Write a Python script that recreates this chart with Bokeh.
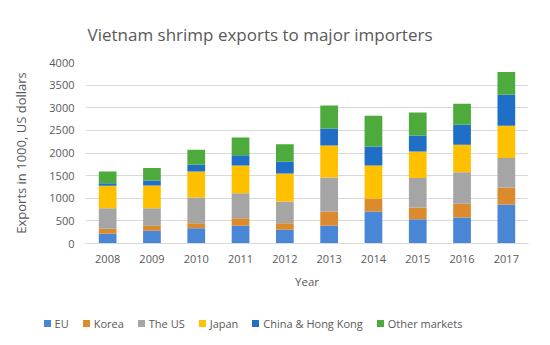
from bokeh.plotting import figure
from bokeh.models import FactorRange, ColumnDataSource, Range1d, Div
from bokeh.layouts import column
from bokeh.embed import file_html
from bokeh.resources import INLINE

years = ["2008", "2009", "2010", "2011", "2012", "2013", "2014", "2015", "2016", "2017"]
eu = [214, 280, 339, 391, 302, 391, 708, 538, 575, 860]
korea = [110, 111, 111, 169, 148, 317, 280, 258, 302, 378]
us = [457, 390, 567, 553, 479, 751, 0, 649, 700, 649]
japan = [494, 501, 575, 612, 619, 708, 737, 589, 604, 715]
china_hk = [59, 111, 147, 228, 258, 376, 420, 354, 443, 685]
other = [258, 273, 332, 391, 390, 508, 678, 508, 464, 501]
series_names = ["EU", "Korea", "The US", "Japan", "China & Hong Kong", "Other markets"]
y_ticks = [0, 500, 1000, 1500, 2000, 2500, 3000, 3500, 4000]

keys = ["eu", "korea", "us", "japan", "china_hk", "other"]
colors = ["#4A86D6", "#DC8A2E", "#A5A5A5", "#FFC000", "#1F6FC6", "#4DAA3D"]

src = ColumnDataSource(dict(year=years, eu=eu, korea=korea, us=us, japan=japan,
                            china_hk=china_hk, other=other))

FONT = "Open Sans"
GREY = "#595959"

p = figure(x_range=FactorRange(*years), y_range=Range1d(0, 4000),
           frame_width=443, frame_height=181, output_backend="svg", toolbar_location=None,
           min_border_left=81, min_border_right=18, min_border_top=55, min_border_bottom=66,
           title="Vietnam shrimp exports to major importers")

rs = p.vbar_stack(keys, x="year", width=0.4, color=colors, source=src, line_color=None)

p.title.align = "left"
p.title.offset = 2
p.title.text_font = FONT
p.title.text_font_size = "17px"
p.title.text_font_style = "normal"
p.title.text_color = GREY
p.title.standoff = 33

p.outline_line_color = None
p.xgrid.grid_line_color = None
p.ygrid.grid_line_color = "#D9D9D9"
p.yaxis.ticker = y_ticks
p.yaxis.axis_line_color = None
p.yaxis.major_tick_line_color = None
p.yaxis.minor_tick_line_color = None
p.xaxis.axis_line_color = "#D9D9D9"
p.xaxis.major_tick_line_color = None
p.xaxis.minor_tick_line_color = None
for ax in (p.xaxis[0], p.yaxis[0]):
    ax.major_label_text_font = FONT
    ax.major_label_text_font_size = "11px"
    ax.major_label_text_color = GREY
    ax.axis_label_text_font = FONT
    ax.axis_label_text_font_style = "normal"
    ax.axis_label_text_color = GREY
p.xaxis.axis_label = "Year"
p.xaxis.axis_label_text_font_size = "11.5px"
p.xaxis.axis_label_standoff = 8
p.yaxis.axis_label = "Exports in 1000, US dollars"
p.yaxis.axis_label_text_font_size = "13px"
p.yaxis.axis_label_standoff = 16

# legend as an HTML strip below the plot
item_html = "".join(
    f'<span style="display:inline-flex;align-items:center;white-space:nowrap">'
    f'<span style="display:inline-block;width:7px;height:7px;background:{c};margin-right:4px"></span>'
    f'{n.replace("&", "&amp;")}</span>'
    for n, c in zip(series_names, colors)
)
legend_html = (
    f'<div style="display:flex;justify-content:center;align-items:center;gap:14px;'
    f'width:520px;height:30px;padding-right:22px;font-family:\'Open Sans\';font-size:11px;'
    f'color:{GREY}">{item_html}</div>'
)
legend_div = Div(text=legend_html, width=542, height=35, margin=0)

layout = column(p, legend_div, spacing=0, margin=(4, 4, 4, 4))

open("out.html", "w").write(file_html(layout, INLINE))
